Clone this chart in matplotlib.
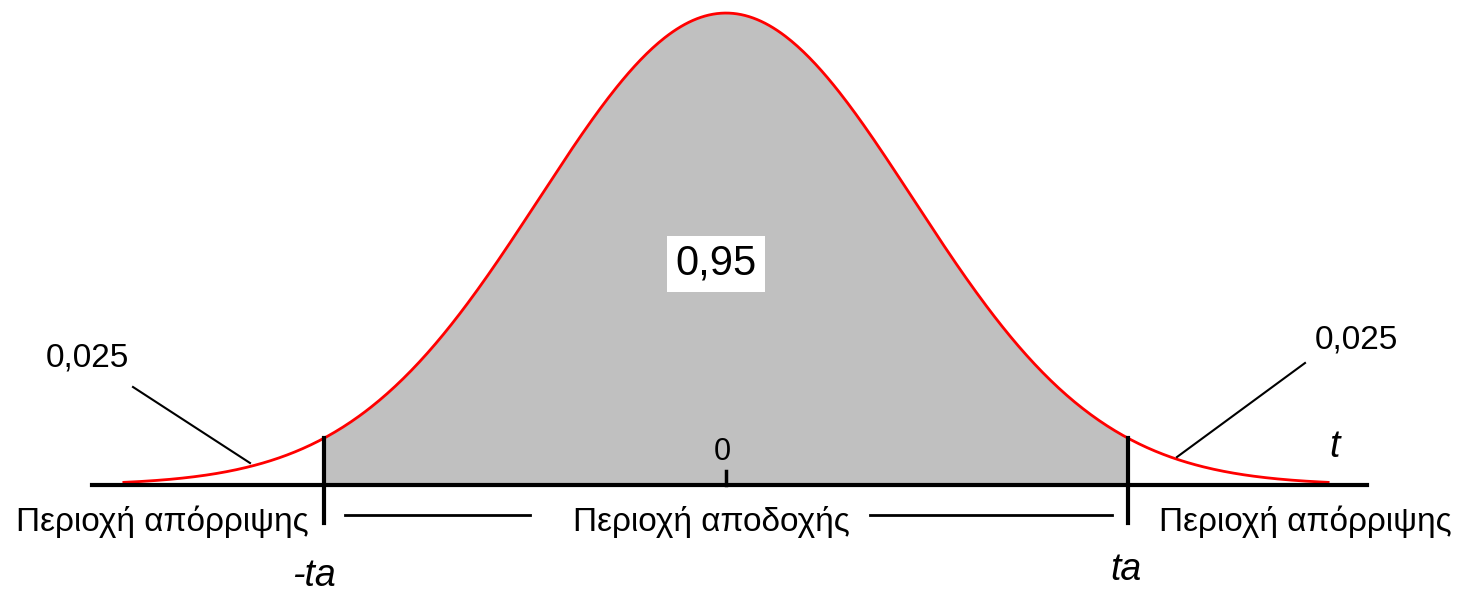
import numpy as np
import matplotlib.pyplot as plt

plt.rcParams['font.family'] = ['Liberation Sans', 'DejaVu Sans']

# curve parameters (standardised units)
mu = 0.0
sigma = 1.0
t_crit = 2.15          # critical value ta
x_end = 3.22           # where the drawn tail stops
area_accept = "0,95"
area_tail = "0,025"
region_reject = "Περιοχή απόρριψης"
region_accept = "Περιοχή αποδοχής"

# pixel layout helpers
CX, AXIS_Y = 726, 485
SX, SY = 187, 1183
W, H = 1462, 595


def px(x, y):
    return (x - CX) / SX, (AXIS_Y - y) / SY


fig = plt.figure(figsize=(W / 100, H / 100), dpi=100)
ax = fig.add_axes([0, 0, 1, 1])
ax.set_xlim(-CX / SX, (W - CX) / SX)
ax.set_ylim(-(H - AXIS_Y) / SY, AXIS_Y / SY)
ax.axis('off')

x = np.linspace(-x_end, x_end, 600)
y = np.exp(-((x - mu) / sigma) ** 2 / 2) / (sigma * np.sqrt(2 * np.pi))
mid = (x >= -t_crit) & (x <= t_crit)
ax.fill_between(x[mid], 0, y[mid], color='#c0c0c0', lw=0, zorder=1)
ax.plot(x, y, color='#ff0000', lw=2, zorder=3)

# horizontal axis
ax.plot([px(92, 0)[0], px(1367, 0)[0]], [0, 0], color='black', lw=3, zorder=4)
ax.plot([0, 0], [0, 14 / SY], color='black', lw=2.5, zorder=4)
ax.text(*px(722, 452), "0", ha='center', va='center', fontsize=22)

# critical value markers
h = np.exp(-(t_crit / sigma) ** 2 / 2) / (sigma * np.sqrt(2 * np.pi))
bottom = px(0, 523)[1]
for s in (-1, 1):
    ax.plot([s * t_crit, s * t_crit], [bottom, h], color='black', lw=3, zorder=4)
ax.text(*px(314, 576), "-ta", ha='center', va='center', fontsize=27, style='italic')
ax.text(*px(1126, 570), "ta", ha='center', va='center', fontsize=27, style='italic')
ax.text(*px(1334, 447), "t", ha='center', va='center', fontsize=27, style='italic')

# region labels under the axis
ax.text(*px(162, 522), region_reject, ha='center', va='center', fontsize=24)
ax.text(*px(711, 522), region_accept, ha='center', va='center', fontsize=24)
ax.text(*px(1305, 522), region_reject, ha='center', va='center', fontsize=24)
ax.plot(*zip(px(345, 515), px(530, 515)), color='black', lw=2)
ax.plot(*zip(px(870, 515), px(1112, 515)), color='black', lw=2)

# area labels
ax.text(*px(716, 264), area_accept, ha='center', va='center', fontsize=30,
        bbox=dict(boxstyle='square,pad=0.2', fc='white', ec='none'), zorder=5)
ax.text(*px(87, 358), area_tail, ha='center', va='center', fontsize=24)
ax.text(*px(1356, 340), area_tail, ha='center', va='center', fontsize=24)
ax.plot(*zip(px(133, 387), px(250, 463)), color='black', lw=1.5, zorder=4)
ax.plot(*zip(px(1177, 457), px(1305, 363)), color='black', lw=1.5, zorder=4)

fig.savefig('out.png', dpi=100)
